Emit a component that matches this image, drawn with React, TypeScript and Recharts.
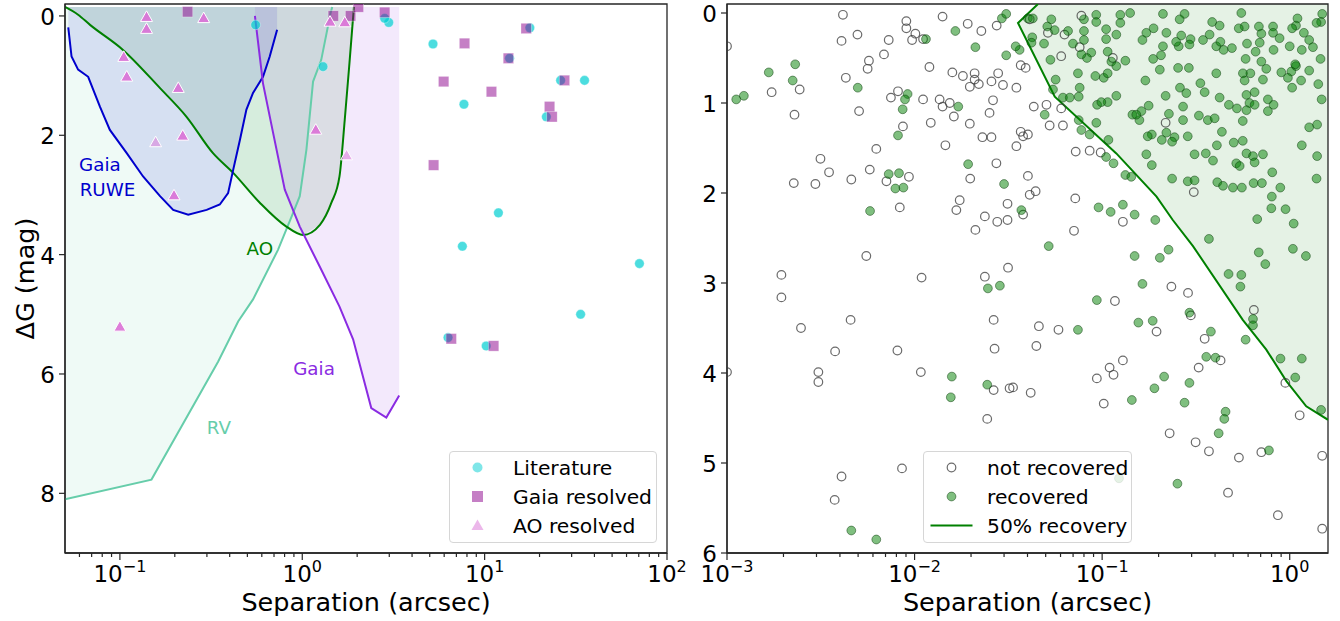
import React from 'react'
import {
  ComposedChart,
  XAxis,
  YAxis,
  Area,
  Line,
  Scatter,
  Legend,
  ReferenceArea,
  ReferenceDot
} from 'recharts'

const FONT = '"DejaVu Sans", sans-serif'

// ---------- left panel: detection limits (separation arcsec, delta G mag) ----------
const rvCurve = [[0.05, 8.1], [0.149, 7.77], [0.346, 5.79], [0.445, 5.12], [0.537, 4.75], [0.736, 3.92], [0.891, 3.3], [0.969, 3.02], [1.054, 2.24], [1.146, 1.1], [1.27, 0.74], [1.43, -0.05], [1.46, -0.15]]
const aoCurve = [[0.05, -0.15], [0.059, -0.02], [0.0686, 0.15], [0.104, 0.57], [0.166, 1.21], [0.232, 1.69], [0.324, 2.3], [0.418, 2.63], [0.585, 3.13], [0.818, 3.53], [1.01, 3.67], [1.25, 3.5], [1.445, 3.13], [1.6, 2.69], [1.71, 1.74], [1.82, 0.74], [1.92, -0.15]]
const ruweCurve = [[0.0521, 0.19], [0.0543, 0.68], [0.059, 0.9], [0.067, 1.02], [0.0777, 1.52], [0.0881, 1.91], [0.109, 2.3], [0.134, 2.69], [0.166, 3.02], [0.196, 3.25], [0.237, 3.33], [0.299, 3.25], [0.353, 3.16], [0.392, 2.97], [0.418, 2.58], [0.455, 2.08], [0.494, 1.57], [0.537, 1.29], [0.609, 1.02], [0.663, 0.68], [0.728, 0.23]]
const gaiaCurve = [[0.55, 0.0], [0.609, 1.13], [0.692, 1.96], [0.802, 2.91], [0.969, 3.53], [1.246, 4.2], [1.6, 4.87], [1.9, 5.42], [2.39, 6.57], [2.89, 6.73], [3.4, 6.36]]
const FILL_TOP = -0.15

const literature = [[0.555, 0.15], [1.3, 0.85], [2.98, 0.11], [2.83, 0.04], [5.21, 0.47], [17.7, 0.2], [13.7, 0.71], [7.7, 1.48], [26.1, 1.08], [35.3, 1.08], [21.8, 1.69], [11.9, 3.3], [7.55, 3.86], [70.6, 4.15], [33.6, 5.0], [6.3, 5.39], [10.2, 5.53]]
const gaiaResolved = [[0.235, -0.07], [1.48, 0.0], [1.84, 0.0], [2.03, -0.15], [2.83, -0.06], [16.9, 0.21], [7.76, 0.46], [13.5, 0.71], [5.96, 1.1], [27.4, 1.08], [10.9, 1.27], [22.7, 1.52], [23.4, 1.69], [5.25, 2.5], [6.56, 5.41], [11.2, 5.53]]
const aoResolved = [[0.14, 0.02], [0.14, 0.22], [0.288, 0.04], [0.105, 0.69], [0.109, 1.02], [0.209, 1.21], [0.221, 2.01], [0.198, 3.01], [1.186, 1.91], [1.42, 0.1], [1.71, 0.11], [0.1, 5.21]]
const aoResolvedFaint = [[0.157, 2.12], [1.75, 2.34]]

const leftAnnotations = [
  { key: 'ruwe1', text: 'Gaia', x: 0.0777, y: 2.49, series: 'ruwe' },
  { key: 'ruwe2', text: 'RUWE', x: 0.0855, y: 2.91, series: 'ruwe' },
  { key: 'ao', text: 'AO', x: 0.585, y: 3.9, series: 'ao' },
  { key: 'gaia', text: 'Gaia', x: 1.16, y: 5.9, series: 'gaia' },
  { key: 'rv', text: 'RV', x: 0.349, y: 6.9, series: 'rv' }
]

const leftMajorTicks = [0.1, 1, 10, 100]
const leftMinorTicks = [0.06, 0.07, 0.08, 0.09, 0.2, 0.3, 0.4, 0.5, 0.6, 0.7, 0.8, 0.9, 2, 3, 4, 5, 6, 7, 8, 9, 20, 30, 40, 50, 60, 70, 80, 90]
const leftYTicks = [0, 2, 4, 6, 8]

// ---------- right panel: injection / recovery ----------
const notRecovered = [
  [0.001, 0.37], [0.00415, 0.02], [0.00408, 0.31], [0.00496, 0.24], [0.00728, 0.3], [0.00687, 0.46], [0.00571, 0.53], [0.00562, 0.62], [0.0043, 0.72], [0.00173, 0.88], [0.00244, 0.85], [0.00229, 1.13], [0.00506, 1.09],
  [0.00904, 0.09], [0.00904, 0.17], [0.0101, 0.23], [0.0097, 0.3], [0.0111, 0.29], [0.0141, 0.04], [0.0192, 0.12], [0.0227, 0.2], [0.0274, 0.14], [0.012, 0.6], [0.0159, 0.66], [0.0181, 0.7], [0.0209, 0.67], [0.0209, 0.74],
  [0.0197, 0.82], [0.022, 0.79], [0.0257, 0.76], [0.0279, 0.67], [0.0296, 0.8], [0.00816, 0.87], [0.00748, 0.94], [0.0111, 0.96], [0.0136, 0.96], [0.0154, 1.0], [0.0141, 1.04], [0.0162, 1.15], [0.0262, 0.97], [0.0251, 1.11],
  [0.00867, 1.26], [0.0122, 1.22], [0.0197, 1.23], [0.023, 1.38], [0.0257, 1.38], [0.0146, 1.47], [0.00625, 1.51], [0.00315, 1.62], [0.0035, 1.77], [0.0046, 1.85], [0.00227, 1.89], [0.00296, 1.9], [0.00577, 1.74],
  [0.00708, 1.87], [0.00933, 1.82], [0.00834, 2.16], [0.0174, 2.08], [0.0167, 2.19], [0.0198, 1.84], [0.0273, 1.67], [0.0237, 2.26], [0.0211, 2.41], [0.0276, 2.32], [0.0313, 2.12], [0.0313, 2.3], [0.00553, 2.7],
  [0.00195, 2.91], [0.00195, 3.16], [0.0109, 2.94], [0.0237, 2.93], [0.0315, 2.83], [0.00456, 3.41], [0.0264, 3.41],
  [0.00248, 3.5], [0.00377, 3.76], [0.00307, 3.99], [0.00307, 4.1], [0.001, 3.99], [0.0081, 3.75], [0.0108, 3.99], [0.0267, 3.73], [0.0264, 4.19], [0.0321, 4.17], [0.0244, 4.51], [0.00408, 5.15], [0.00857, 5.06], [0.00375, 5.41],
  [0.0349, 0.83], [0.0368, 0.58], [0.0391, 0.61], [0.0605, 0.48], [0.063, 0.24], [0.0759, 0.38], [0.0775, 0.03], [0.0514, 0.22], [0.0411, 0.07], [0.114, 0.5], [0.0432, 1.04], [0.0505, 1.02], [0.0605, 1.06], [0.0525, 1.25],
  [0.0618, 1.25], [0.0368, 1.32], [0.0379, 1.37], [0.0402, 1.35], [0.0349, 1.48], [0.0723, 1.54], [0.0858, 1.53], [0.0982, 1.55], [0.0402, 1.81], [0.0442, 1.98], [0.0411, 2.02], [0.0719, 2.06], [0.0708, 2.42],
  [0.0379, 2.24], [0.129, 2.32], [0.308, 1.99], [0.218, 1.22], [0.117, 3.2], [0.234, 3.04], [0.287, 3.11], [0.644, 3.3], [0.297, 3.36],
  [0.046, 3.48], [0.0585, 3.52], [0.0446, 3.7], [0.0335, 4.16], [0.0416, 4.22], [0.0937, 4.06], [0.1096, 3.94], [0.115, 4.02], [0.129, 3.86], [0.102, 4.34], [0.195, 3.54], [0.352, 3.62], [0.327, 3.94], [0.428, 3.86],
  [0.229, 4.67], [0.315, 4.77], [0.371, 4.87], [0.536, 4.94], [0.706, 4.88], [0.469, 5.33], [0.865, 5.58], [1.49, 5.73], [1.49, 4.92], [1.13, 4.47], [0.948, 4.11], [0.061, 5.4]
]

const recovered = [
  [0.00112, 0.96], [0.00123, 0.92], [0.00167, 0.66], [0.00231, 0.57], [0.00224, 0.75], [0.00498, 0.83], [0.0115, 0.29], [0.0165, 0.2], [0.0211, 0.38], [0.0292, 0.06], [0.0308, 0.01], [0.0308, 0.47], [0.00918, 0.9],
  [0.00889, 0.96], [0.00864, 1.07], [0.0171, 1.04], [0.00816, 1.36], [0.00728, 1.79], [0.00826, 1.78], [0.0079, 1.95], [0.00872, 1.94], [0.00579, 2.2], [0.0193, 1.68], [0.03, 1.9], [0.0246, 3.06], [0.0285, 3.03],
  [0.0158, 4.04], [0.0156, 4.27], [0.0244, 4.13], [0.0046, 5.75], [0.00625, 5.85],
  [0.0743, 3.52], [0.156, 3.44], [0.186, 3.42], [0.38, 3.54], [0.582, 3.63], [0.637, 3.4], [0.637, 3.47], [0.359, 3.82], [0.402, 3.83], [0.214, 4.04], [0.19, 4.17], [0.292, 4.11], [0.144, 4.3], [0.275, 4.33],
  [0.455, 4.43], [0.448, 4.51], [0.418, 4.67], [0.775, 4.86], [0.252, 5.23], [0.893, 3.84], [1.16, 3.84], [1.07, 4.05], [1.47, 4.41], [0.292, 3.33], [0.0937, 3.19], [0.123, 5.17],
  [0.0519, 2.59], [0.149, 2.7], [0.203, 2.72], [0.226, 2.63], [0.164, 3.01], [0.371, 2.51], [0.472, 2.9], [0.552, 2.91], [0.546, 3.04], [0.684, 2.66], [0.741, 2.79], [1.04, 2.62], [1.22, 2.7], [0.671, 2.29],
  [1.05, 2.34], [0.95, 2.18], [0.798, 2.17], [0.803, 2.04], [0.891, 1.94], [0.807, 1.77], [1.39, 1.84], [1.4, 1.59], [1.16, 1.47], [1.27, 1.27], [1.4, 1.24], [1.48, 0.96], [1.42, 0.79], [1.46, 0.51], [1.47, 0.1],
  [1.49, 0.01], [1.39, 0.11], [1.1, 0.06], [1.08, 0.14], [1.19, 0.22], [1.27, 0.3], [1.33, 0.38], [1.16, 0.41], [1.08, 0.59], [1.02, 0.65], [1.27, 0.64], [1.15, 0.75], [1.03, 0.83], [0.902, 0.66], [0.82, 1.02],
  [0.765, 1.09], [0.765, 0.96], [0.72, 0.74], [0.75, 0.62], [0.82, 0.41], [0.692, 0.33], [0.658, 0.43], [0.582, 0.51], [0.617, 0.67], [0.563, 0.67], [0.706, 0.54], [0.706, 0.23], [0.685, 0.15], [0.815, 0.15],
  [0.815, 0.22], [0.883, 0.28], [1.0, 0.37], [1.07, 0.57], [0.978, 0.72], [1.03, 0.17], [0.552, 0.0], [0.575, 0.15], [0.535, 0.17], [0.592, 0.34], [0.492, 0.39], [0.444, 0.41], [0.406, 0.37], [0.427, 0.32],
  [0.374, 0.24], [0.345, 0.3], [0.386, 0.1], [0.296, 0.29], [0.292, 0.35], [0.256, 0.37], [0.264, 0.25], [0.248, 0.32], [0.275, 0.01], [0.259, 0.07], [0.211, 0.01], [0.22, 0.22], [0.188, 0.17], [0.172, 0.22],
  [0.164, 0.3], [0.187, 0.51], [0.211, 0.37], [0.206, 0.47], [0.203, 0.63], [0.254, 0.61], [0.29, 0.61], [0.17, 0.75], [0.26, 0.83], [0.281, 0.89], [0.334, 0.78], [0.352, 0.88], [0.423, 0.94], [0.406, 0.67],
  [0.474, 1.02], [0.523, 1.06], [0.588, 0.91], [0.61, 1.0], [0.588, 1.08], [0.65, 1.02], [0.65, 0.88], [0.575, 0.75], [0.562, 1.2], [0.27, 1.04], [0.27, 1.19], [0.328, 1.14], [0.366, 1.19], [0.398, 1.17],
  [0.227, 1.12], [0.218, 0.92], [0.177, 1.03], [0.162, 1.09], [0.145, 1.13], [0.158, 1.19], [0.119, 0.92], [0.107, 0.99], [0.094, 1.02], [0.286, 1.37], [0.435, 1.32], [0.503, 1.44], [0.562, 1.42], [0.409, 1.47],
  [0.39, 1.64], [0.519, 1.67], [0.541, 1.7], [0.588, 1.56], [0.637, 1.59], [0.65, 1.66], [0.72, 1.57], [0.311, 1.57], [0.357, 1.56], [0.411, 1.88], [0.441, 1.92], [0.498, 1.94], [0.556, 1.94], [0.642, 1.89],
  [0.711, 1.89], [0.286, 1.87], [0.311, 1.86], [0.236, 1.84], [0.184, 1.69], [0.172, 1.57], [0.184, 1.35], [0.208, 1.41], [0.243, 1.38], [0.22, 1.33], [0.133, 1.8], [0.143, 1.82], [0.115, 1.67], [0.105, 1.6],
  [0.108, 1.41], [0.0858, 1.35], [0.0775, 1.3], [0.075, 1.19], [0.0494, 1.13], [0.0618, 0.94], [0.0672, 0.94], [0.075, 0.93], [0.0931, 1.22], [0.0402, 0.06], [0.0427, 0.06], [0.0424, 0.27], [0.042, 0.33],
  [0.0363, 0.41], [0.0346, 0.37], [0.049, 0.34], [0.0536, 0.07], [0.051, 0.15], [0.0558, 0.19], [0.0658, 0.2], [0.0699, 0.34], [0.08, 0.2], [0.08, 0.3], [0.08, 0.07], [0.093, 0.02], [0.093, 0.1], [0.105, 0.18],
  [0.105, 0.29], [0.119, 0.24], [0.125, 0.11], [0.125, 0.02], [0.141, 0.0], [0.0875, 0.44], [0.083, 0.5], [0.0775, 0.46], [0.107, 0.43], [0.112, 0.54], [0.119, 0.59], [0.102, 0.72], [0.107, 0.67], [0.092, 0.7],
  [0.0743, 0.67], [0.0759, 0.83], [0.0565, 0.74], [0.0547, 0.85], [0.133, 0.53], [0.053, 0.52], [0.099, 0.99], [0.152, 1.13], [0.175, 1.37], [0.236, 1.43], [0.423, 0.14], [0.192, 2.3], [0.129, 2.13], [0.149, 2.24],
  [0.111, 2.21], [0.0957, 2.16], [0.0371, 2.19]
]

// 50% recovery contour, in drawing order
const recovery50 = [[0.0455, -0.1], [0.0356, 0.11], [0.0559, 0.93], [0.119, 1.56], [0.195, 2.04], [0.238, 2.3], [0.305, 2.59], [0.562, 3.41], [0.75, 3.74], [0.96, 4.09], [1.225, 4.37], [1.6, 4.52]]
// the same region as [top, bottom] bands along x
const recoveryBand = [[0.0356, 0.11, 0.11], [0.0455, -0.1, 0.556], [0.0559, -0.1, 0.93], [0.119, -0.1, 1.56], [0.195, -0.1, 2.04], [0.238, -0.1, 2.3], [0.305, -0.1, 2.59], [0.562, -0.1, 3.41], [0.75, -0.1, 3.74], [0.96, -0.1, 4.09], [1.225, -0.1, 4.37], [1.6, -0.1, 4.52]]

const rightMajorTicks = [0.001, 0.01, 0.1, 1]
const rightMinorTicks = [0.002, 0.003, 0.004, 0.005, 0.006, 0.007, 0.008, 0.009, 0.02, 0.03, 0.04, 0.05, 0.06, 0.07, 0.08, 0.09, 0.2, 0.3, 0.4, 0.5, 0.6, 0.7, 0.8, 0.9]
const rightYTicks = [0, 1, 2, 3, 4, 5, 6]

// ---------- helpers ----------
const toXY = (pts: number[][]) => pts.map(([x, y]) => ({ x, y }))
const toBand = (pts: number[][], top: number) => pts.map(([x, y]) => ({ x, r: [top, y] }))

const seriesColor: Record<string, string> = {
  rv: '#66cdaa',
  ao: '#008000',
  ruwe: '#0000cd',
  gaia: '#8a2be2'
}

const AXIS = '#262626'
const TICK_FONT = 23
const TITLE_FONT = 25.5

const makeXTick = (majors: number[]) => (props: any) => {
  const { x, y, payload } = props
  const v = payload.value
  const major = majors.some(m => Math.abs(m - v) / m < 1e-6)
  const exp = Math.round(Math.log10(v))
  return (
    <g>
      <line x1={x} x2={x} y1={y} y2={y + (major ? 7 : 4)} stroke={AXIS} strokeWidth={1.2} />
      {major && (
        <text x={x} y={y + 29} textAnchor='middle' fontSize={TICK_FONT} fontFamily={FONT} fill='#000'>
          10
          <tspan dy={-10} fontSize={16}>{exp < 0 ? '\u2212' + -exp : String(exp)}</tspan>
        </text>
      )}
    </g>
  )
}

const YTick = (props: any) => {
  const { x, y, payload } = props
  return (
    <g>
      <line x1={x - 6} x2={x} y1={y} y2={y} stroke={AXIS} strokeWidth={1.2} />
      <text x={x - 10} y={y + 9} textAnchor='end' fontSize={TICK_FONT} fontFamily={FONT} fill='#000'>
        {payload.value}
      </text>
    </g>
  )
}

const XTitle = (props: any) => {
  const vb = props.viewBox || { x: 0, y: 0, width: 0 }
  return (
    <text x={vb.x + vb.width / 2} y={611} textAnchor='middle' fontSize={TITLE_FONT} fontFamily={FONT} fill='#000'>
      Separation (arcsec)
    </text>
  )
}

const YTitle = (props: any) => {
  const vb = props.viewBox || { y: 0, height: 0 }
  const cy = vb.y + vb.height / 2
  return (
    <text x={34} y={cy} transform={`rotate(-90 34 ${cy})`} textAnchor='middle' fontSize={TITLE_FONT} fontFamily={FONT} fill='#000'>
      ΔG (mag)
    </text>
  )
}

// scatter marker shapes
const LitDot = (p: any) => <circle cx={p.cx} cy={p.cy} r={4.8} fill='#00ced1' fillOpacity={0.7} stroke='#fff' strokeOpacity={0.6} strokeWidth={0.6} />
const GaiaSquare = (p: any) => <rect x={p.cx - 5.2} y={p.cy - 5.2} width={10.4} height={10.4} fill='#8b008b' fillOpacity={0.5} stroke='#fff' strokeOpacity={0.5} strokeWidth={0.6} />
const AOTriangle = (p: any) => <polygon points={`${p.cx},${p.cy - 6.3} ${p.cx - 6},${p.cy + 4.3} ${p.cx + 6},${p.cy + 4.3}`} fill='#da70d6' fillOpacity={0.9} stroke='#fff' strokeWidth={1} />
const AOTriangleFaint = (p: any) => <polygon points={`${p.cx},${p.cy - 6.3} ${p.cx - 6},${p.cy + 4.3} ${p.cx + 6},${p.cy + 4.3}`} fill='#da70d6' fillOpacity={0.5} stroke='#fff' strokeWidth={1} />
const OpenDot = (p: any) => <circle cx={p.cx} cy={p.cy} r={4.3} fill='none' stroke='#3a3a3a' strokeOpacity={0.75} strokeWidth={1.2} />
const GreenDot = (p: any) => <circle cx={p.cx} cy={p.cy} r={4.4} fill='#008000' fillOpacity={0.5} stroke='#0b3d0b' strokeOpacity={0.5} strokeWidth={1} />

const AnnotationText = (text: string, color: string) => (p: any) => (
  <text x={p.cx} y={p.cy} textAnchor='middle' dominantBaseline='central' fontSize={18.3} fontFamily={FONT} fill={color}>
    {text}
  </text>
)

type LegendItem = { label: string, marker: React.ReactNode }

const LegendBox = ({ items }: { items: LegendItem[] }) => (
  <div
    style={{
      border: '1px solid #d6d6d6',
      borderRadius: 4,
      background: 'rgba(255,255,255,0.8)',
      boxSizing: 'border-box',
      height: 92,
      paddingTop: 1,
      fontFamily: FONT,
      fontSize: 20.3,
      color: '#000'
    }}
  >
    {items.map(it => (
      <div key={it.label} style={{ display: 'flex', alignItems: 'center', height: 29 }}>
        <svg width={63} height={29} style={{ flex: 'none' }}>{it.marker}</svg>
        <span style={{ whiteSpace: 'nowrap' }}>{it.label}</span>
      </div>
    ))}
  </div>
)

const leftLegendItems: LegendItem[] = [
  { label: 'Literature', marker: <circle cx={27.5} cy={14.5} r={5} fill='#00ced1' fillOpacity={0.5} /> },
  { label: 'Gaia resolved', marker: <rect x={22} y={9} width={11} height={11} fill='#8b008b' fillOpacity={0.5} /> },
  { label: 'AO resolved', marker: <polygon points='27.5,8.5 21.5,19 33.5,19' fill='#da70d6' fillOpacity={0.5} /> }
]

const rightLegendItems: LegendItem[] = [
  { label: 'not recovered', marker: <circle cx={27.5} cy={14.5} r={4.3} fill='none' stroke='#3a3a3a' strokeOpacity={0.75} strokeWidth={1.2} /> },
  { label: 'recovered', marker: <circle cx={27.5} cy={14.5} r={4.4} fill='#008000' fillOpacity={0.5} stroke='#0b3d0b' strokeOpacity={0.5} /> },
  { label: '50% recovery', marker: <line x1={6.5} x2={48.5} y1={14.5} y2={14.5} stroke='#008000' strokeWidth={2} /> }
]

function LeftPanel () {
  return (
    <ComposedChart width={700} height={621} margin={{ top: 4, right: 33, bottom: 0, left: 0 }}>
      <XAxis
        dataKey='x'
        type='number'
        scale='log'
        domain={[0.05, 100]}
        allowDataOverflow
        ticks={[...leftMinorTicks, ...leftMajorTicks]}
        interval={0}
        tickSize={0}
        tickMargin={0}
        tickLine={false}
        tick={makeXTick(leftMajorTicks)}
        axisLine={{ stroke: AXIS, strokeWidth: 1.3 }}
        height={68}
        label={<XTitle />}
      />
      <YAxis
        dataKey='y'
        type='number'
        domain={[-0.2, 9]}
        reversed
        allowDataOverflow
        ticks={leftYTicks}
        interval={0}
        tickSize={0}
        tickMargin={0}
        tickLine={false}
        tick={YTick}
        axisLine={{ stroke: AXIS, strokeWidth: 1.3 }}
        width={65}
        label={<YTitle />}
      />

      <Area data={toBand(rvCurve, FILL_TOP)} dataKey='r' type='linear' fill={seriesColor.rv} fillOpacity={0.1} stroke='none' dot={false} activeDot={false} isAnimationActive={false} />
      <Area data={toBand(aoCurve, FILL_TOP)} dataKey='r' type='linear' fill={seriesColor.ao} fillOpacity={0.1} stroke='none' dot={false} activeDot={false} isAnimationActive={false} />
      <Area data={toBand(ruweCurve, FILL_TOP)} dataKey='r' type='linear' fill={seriesColor.ruwe} fillOpacity={0.1} stroke='none' dot={false} activeDot={false} isAnimationActive={false} />
      <Area data={toBand(gaiaCurve, FILL_TOP)} dataKey='r' type='linear' fill={seriesColor.gaia} fillOpacity={0.1} stroke='none' dot={false} activeDot={false} isAnimationActive={false} />

      <Line data={toXY(rvCurve)} dataKey='y' type='linear' stroke={seriesColor.rv} strokeWidth={2} dot={false} activeDot={false} isAnimationActive={false} />
      <Line data={toXY(aoCurve)} dataKey='y' type='monotone' stroke={seriesColor.ao} strokeWidth={2} dot={false} activeDot={false} isAnimationActive={false} />
      <Line data={toXY(ruweCurve)} dataKey='y' type='linear' stroke={seriesColor.ruwe} strokeWidth={2} dot={false} activeDot={false} isAnimationActive={false} />
      <Line data={toXY(gaiaCurve)} dataKey='y' type='linear' stroke={seriesColor.gaia} strokeWidth={2} dot={false} activeDot={false} isAnimationActive={false} />

      <Scatter name='Literature' data={toXY(literature)} shape={LitDot} isAnimationActive={false} />
      <Scatter name='Gaia resolved' data={toXY(gaiaResolved)} shape={GaiaSquare} isAnimationActive={false} />
      <Scatter name='AO resolved' data={toXY(aoResolved)} shape={AOTriangle} isAnimationActive={false} />
      <Scatter name='AO resolved faint' data={toXY(aoResolvedFaint)} shape={AOTriangleFaint} legendType='none' isAnimationActive={false} />

      {leftAnnotations.map(a => (
        <ReferenceDot key={a.key} x={a.x} y={a.y} r={0} ifOverflow='visible' shape={AnnotationText(a.text, seriesColor[a.series])} />
      ))}

      <ReferenceArea x1={0.05} x2={100} y1={-0.2} y2={9} fill='none' stroke={AXIS} strokeWidth={1.3} ifOverflow='visible' />

      <Legend
        layout='vertical'
        align='center'
        verticalAlign='middle'
        wrapperStyle={{ left: 449, top: 451, width: 208 }}
        content={() => <LegendBox items={leftLegendItems} />}
      />
    </ComposedChart>
  )
}

function RightPanel () {
  return (
    <ComposedChart width={660} height={621} margin={{ top: 4, right: 12, bottom: 0, left: 0 }}>
      <XAxis
        dataKey='x'
        type='number'
        scale='log'
        domain={[0.001, 1.6]}
        allowDataOverflow
        ticks={[...rightMinorTicks, ...rightMajorTicks]}
        interval={0}
        tickSize={0}
        tickMargin={0}
        tickLine={false}
        tick={makeXTick(rightMajorTicks)}
        axisLine={{ stroke: AXIS, strokeWidth: 1.3 }}
        height={68}
        label={<XTitle />}
      />
      <YAxis
        dataKey='y'
        type='number'
        domain={[-0.1, 6]}
        reversed
        allowDataOverflow
        ticks={rightYTicks}
        interval={0}
        tickSize={0}
        tickMargin={0}
        tickLine={false}
        tick={YTick}
        axisLine={{ stroke: AXIS, strokeWidth: 1.3 }}
        width={47}
      />

      <Area
        data={recoveryBand.map(([x, top, bottom]) => ({ x, r: [top, bottom] }))}
        dataKey='r'
        type='linear'
        fill='#008000'
        fillOpacity={0.1}
        stroke='none'
        dot={false}
        activeDot={false}
        isAnimationActive={false}
      />
      <Line data={toXY(recovery50)} dataKey='y' type='linear' stroke='#008000' strokeWidth={2} dot={false} activeDot={false} isAnimationActive={false} />

      <Scatter name='not recovered' data={toXY(notRecovered)} shape={OpenDot} isAnimationActive={false} />
      <Scatter name='recovered' data={toXY(recovered)} shape={GreenDot} isAnimationActive={false} />

      <ReferenceArea x1={0.001} x2={1.6} y1={-0.1} y2={6} fill='none' stroke={AXIS} strokeWidth={1.3} ifOverflow='visible' />

      <Legend
        layout='vertical'
        align='center'
        verticalAlign='middle'
        wrapperStyle={{ left: 243, top: 451, width: 209 }}
        content={() => <LegendBox items={rightLegendItems} />}
      />
    </ComposedChart>
  )
}

export default function App () {
  return (
    <div style={{ position: 'absolute', left: 0, top: 0, width: 1340, height: 621, background: '#fff', overflow: 'hidden', fontFamily: FONT }}>
      <div style={{ position: 'absolute', left: 0, top: 0 }}>
        <LeftPanel />
      </div>
      <div style={{ position: 'absolute', left: 680, top: 0 }}>
        <RightPanel />
      </div>
    </div>
  )
}
